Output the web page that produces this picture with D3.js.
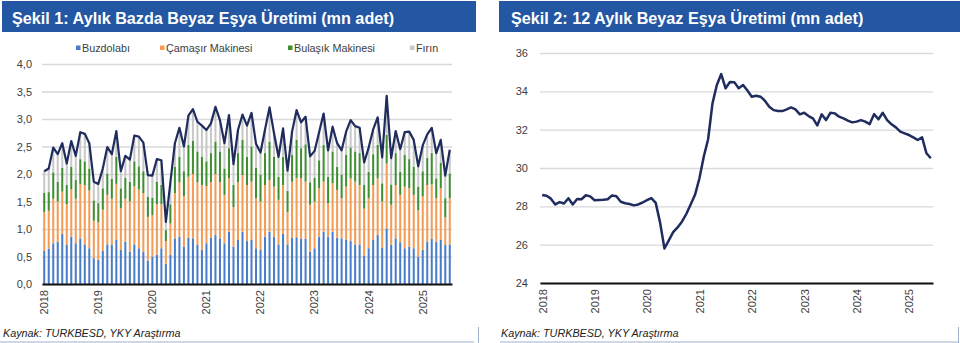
<!DOCTYPE html>
<html>
<head>
<meta charset="utf-8">
<script src="https://cdn.jsdelivr.net/npm/d3@7"></script>
<style>
  html, body { margin: 0; padding: 0; background: #fff; }
  svg { display: block; font-family: "Liberation Sans", Arial, sans-serif; }
</style>
</head>
<body>
<svg id="chart" width="960" height="343"></svg>
<script>
// ---- Monthly production by product (mn units), Jan 2018 – Jul 2025 ----
const buzdolabi = [0.60,0.64,0.74,0.77,0.91,0.72,0.86,0.74,0.83,0.72,0.65,0.47,
  0.44,0.60,0.72,0.72,0.80,0.62,0.77,0.59,0.72,0.65,0.59,0.42,
  0.50,0.53,0.65,0.37,0.53,0.83,0.86,0.68,0.84,0.83,0.71,0.62,
  0.74,0.84,0.89,0.83,0.74,0.95,0.68,0.80,0.95,0.78,0.80,0.65,
  0.62,0.86,0.95,0.86,0.72,0.91,0.72,0.84,0.85,0.82,0.82,0.59,
  0.65,0.86,0.95,0.86,0.95,0.84,0.83,0.81,0.78,0.72,0.71,0.52,
  0.65,0.80,0.89,0.66,1.00,0.71,0.83,0.76,0.65,0.68,0.65,0.50,
  0.62,0.77,0.82,0.77,0.80,0.71,0.72];
const camasir = [0.71,0.69,0.81,0.73,0.77,0.73,0.86,0.81,0.99,1.08,1.05,0.68,
  0.68,0.75,0.90,0.83,1.02,0.76,0.78,0.91,1.06,1.07,1.06,0.80,
  0.75,0.92,0.80,0.41,0.57,0.82,0.99,0.92,1.11,1.17,1.14,1.18,
  1.04,1.01,1.11,1.02,0.88,0.97,0.72,1.05,1.03,1.02,1.06,0.91,
  0.88,0.94,0.94,0.91,0.81,0.89,0.59,1.02,1.08,1.10,1.04,0.85,
  0.85,0.88,0.91,0.61,0.88,0.87,0.73,0.96,1.14,1.14,1.09,0.85,
  0.91,1.00,1.03,0.84,1.19,0.73,0.97,0.86,1.12,1.06,0.97,0.84,
  0.97,1.03,0.99,0.79,0.94,0.50,0.84];
const bulasik = [0.35,0.34,0.48,0.36,0.43,0.35,0.41,0.34,0.45,0.43,0.40,0.37,
  0.35,0.39,0.39,0.36,0.49,0.36,0.38,0.36,0.45,0.42,0.40,0.37,
  0.32,0.41,0.35,0.20,0.35,0.48,0.46,0.45,0.58,0.60,0.56,0.51,
  0.45,0.53,0.59,0.56,0.48,0.55,0.40,0.53,0.64,0.51,0.64,0.55,
  0.49,0.58,0.70,0.54,0.42,0.51,0.38,0.49,0.69,0.55,0.68,0.41,
  0.43,0.51,0.67,0.48,0.58,0.42,0.43,0.58,0.56,0.55,0.58,0.43,
  0.48,0.56,0.61,0.33,0.52,0.37,0.58,0.42,0.58,0.53,0.51,0.43,
  0.46,0.49,0.57,0.36,0.46,0.35,0.45];
const firin = [0.39,0.43,0.45,0.50,0.45,0.39,0.47,0.44,0.49,0.50,0.46,0.34,
  0.35,0.36,0.48,0.45,0.47,0.31,0.40,0.40,0.47,0.54,0.52,0.39,
  0.40,0.41,0.45,0.15,0.40,0.43,0.53,0.45,0.53,0.58,0.54,0.57,
  0.57,0.54,0.63,0.57,0.46,0.60,0.38,0.42,0.46,0.57,0.61,0.44,
  0.40,0.43,0.62,0.43,0.36,0.52,0.37,0.42,0.54,0.47,0.50,0.47,
  0.49,0.51,0.57,0.48,0.45,0.43,0.44,0.42,0.50,0.46,0.46,0.41,
  0.44,0.45,0.50,0.47,0.71,0.48,0.40,0.41,0.41,0.50,0.49,0.37,
  0.47,0.43,0.46,0.46,0.42,0.41,0.43];

// ---- 12-month rolling total production (mn units), Jan 2018 – Jun 2025 ----
const rolling12 = [28.59,28.55,28.40,28.10,28.22,28.15,28.42,28.10,28.38,28.37,28.58,28.52,
  28.32,28.33,28.34,28.37,28.57,28.53,28.24,28.16,28.12,28.05,28.10,28.20,
  28.32,28.43,28.18,27.15,25.80,26.22,26.65,26.90,27.20,27.60,28.10,28.60,
  29.45,30.59,31.50,33.37,34.33,34.90,34.16,34.49,34.48,34.16,34.33,34.04,
  33.72,33.77,33.72,33.51,33.20,33.02,32.97,32.97,33.06,33.16,33.06,32.80,
  32.88,32.71,32.59,32.22,32.80,32.50,32.88,32.85,32.68,32.59,32.47,32.38,
  32.42,32.50,32.42,32.29,32.81,32.54,32.88,32.50,32.28,32.12,31.90,31.81,
  31.72,31.60,31.46,31.60,30.77,30.51];

const seriesNames = ["Buzdolabı", "Çamaşır Makinesi", "Bulaşık Makinesi", "Fırın"];
const seriesColors = ["#4a7dc9", "#f39c55", "#3f8f32", "#c8c8c8"];
const yearLabels = ["2018","2019","2020","2021","2022","2023","2024","2025"];
const leftTicks = [0, 0.5, 1, 1.5, 2, 2.5, 3, 3.5, 4];
const rightTicks = [24, 26, 28, 30, 32, 34, 36];

const monthsLeft = d3.timeMonths(new Date(2018, 0, 1), new Date(2025, 7, 1)).map(d3.timeFormat("%Y-%m"));
const monthsRight = monthsLeft.slice(0, rolling12.length);

const svg = d3.select("#chart");
const navy = "#1f2c5e";
const textCol = "#404040";
const commaFmt = d => d3.format(".1f")(d).replace(".", ",");

// ---------- panel headers ----------
function header(x0, x1, label, tx) {
  svg.append("rect").attr("x", x0).attr("y", 1).attr("width", x1 - x0).attr("height", 31)
    .attr("fill", "#2356a3");
  svg.append("text").attr("x", tx).attr("y", 23.5).attr("fill", "#fff")
    .attr("font-size", 16.2).attr("font-weight", "bold").text(label);
}
header(2, 476, "Şekil 1: Aylık Bazda Beyaz Eşya Üretimi (mn adet)", 12);
header(499, 960, "Şekil 2: 12 Aylık Beyaz Eşya Üretimi (mn adet)", 511);

// ---------- left: stacked monthly bars + total line ----------
const xL = d3.scaleBand().domain(monthsLeft).range([42, 452]).paddingInner(0.55).paddingOuter(0.27);
const yL = d3.scaleLinear().domain([0, 4]).range([284, 64]);

const gridL = svg.append("g").attr("transform", "translate(42,0)")
  .call(d3.axisLeft(yL).tickValues(leftTicks).tickSize(-410).tickFormat(commaFmt));
gridL.select(".domain").remove();
gridL.selectAll(".tick line").attr("stroke", "#d9d9d9").attr("stroke-width", 1.3);
gridL.selectAll(".tick text").attr("x", -10).attr("fill", textCol)
  .attr("font-size", 11).attr("font-family", "Liberation Sans, Arial, sans-serif");

const rows = monthsLeft.map((m, i) => ({
  m, b: buzdolabi[i], c: camasir[i], u: bulasik[i], f: firin[i]
}));
const stack = d3.stack().keys(["b", "c", "u", "f"])(rows);
svg.append("g").selectAll("g").data(stack).join("g")
  .attr("fill", (d, i) => seriesColors[i])
  .selectAll("rect").data(d => d).join("rect")
  .attr("x", d => xL(d.data.m))
  .attr("width", xL.bandwidth())
  .attr("y", d => yL(d[1]))
  .attr("height", d => yL(d[0]) - yL(d[1]));

const totals = rows.map(r => r.b + r.c + r.u + r.f);
svg.append("path").datum(totals)
  .attr("fill", "none").attr("stroke", navy).attr("stroke-width", 2.2)
  .attr("stroke-linejoin", "round")
  .attr("d", d3.line().x((d, i) => xL(monthsLeft[i]) + xL.bandwidth() / 2).y(d => yL(d)));

const januariesL = monthsLeft.filter(m => m.endsWith("-01"));
const axL = svg.append("g").attr("transform", "translate(0,284)")
  .call(d3.axisBottom(xL).tickValues(januariesL).tickSize(0).tickSizeOuter(0)
    .tickFormat((d, i) => yearLabels[i]));
axL.select(".domain").attr("stroke", "#111").attr("stroke-width", 2);
axL.selectAll(".tick text").attr("transform", "rotate(-90)")
  .attr("text-anchor", "end").attr("x", -6).attr("y", 0).attr("dy", "0.35em")
  .attr("fill", textCol).attr("font-size", 11).attr("font-family", "Liberation Sans, Arial, sans-serif");

// legend
const legendX = [76, 160, 288, 410];
const leg = svg.append("g");
seriesNames.forEach((n, i) => {
  leg.append("rect").attr("x", legendX[i]).attr("y", 45.5).attr("width", 4.5).attr("height", 4.5)
    .attr("fill", seriesColors[i]);
  leg.append("text").attr("x", legendX[i] + 6).attr("y", 51.5).attr("font-size", 10.8)
    .attr("fill", textCol).text(n);
});

// ---------- right: 12-month rolling line ----------
const xR = d3.scalePoint().domain(monthsRight).range([540, 933]).padding(0.5);
const yR = d3.scaleLinear().domain([24, 36]).range([283, 53]);

const gridR = svg.append("g").attr("transform", "translate(540,0)")
  .call(d3.axisLeft(yR).tickValues(rightTicks).tickSize(-393));
gridR.select(".domain").remove();
gridR.selectAll(".tick line").attr("stroke", "#d9d9d9").attr("stroke-width", 1.3);
gridR.selectAll(".tick text").attr("x", -12).attr("fill", textCol)
  .attr("font-size", 11).attr("font-family", "Liberation Sans, Arial, sans-serif");

svg.append("path").datum(rolling12)
  .attr("fill", "none").attr("stroke", navy).attr("stroke-width", 2.5)
  .attr("stroke-linejoin", "round")
  .attr("d", d3.line().x((d, i) => xR(monthsRight[i])).y(d => yR(d)));

const januariesR = monthsRight.filter(m => m.endsWith("-01"));
const axR = svg.append("g").attr("transform", "translate(0,283)")
  .call(d3.axisBottom(xR).tickValues(januariesR).tickSize(0).tickSizeOuter(0)
    .tickFormat((d, i) => yearLabels[i]));
axR.select(".domain").attr("stroke", "#111").attr("stroke-width", 2);
axR.selectAll(".tick text").attr("transform", "rotate(-90)")
  .attr("text-anchor", "end").attr("x", -6).attr("y", 0).attr("dy", "0.35em")
  .attr("fill", textCol).attr("font-size", 11).attr("font-family", "Liberation Sans, Arial, sans-serif");

// ---------- source notes and panel frames ----------
svg.append("text").attr("x", 3).attr("y", 337).attr("font-size", 10.8).attr("font-style", "italic")
  .attr("fill", "#222").text("Kaynak: TURKBESD, YKY Araştırma");
svg.append("text").attr("x", 501).attr("y", 337).attr("font-size", 10.8).attr("font-style", "italic")
  .attr("fill", "#222").text("Kaynak: TURKBESD, YKY Araştırma");

const frame = "#9fb0cc";
svg.append("line").attr("x1", 0).attr("x2", 474).attr("y1", 342).attr("y2", 342).attr("stroke", frame);
svg.append("line").attr("x1", 500).attr("x2", 958).attr("y1", 342).attr("y2", 342).attr("stroke", frame);
svg.append("line").attr("x1", 478.5).attr("x2", 478.5).attr("y1", 327).attr("y2", 343).attr("stroke", frame);
svg.append("line").attr("x1", 958.5).attr("x2", 958.5).attr("y1", 327).attr("y2", 343).attr("stroke", frame);
</script>
</body>
</html>
